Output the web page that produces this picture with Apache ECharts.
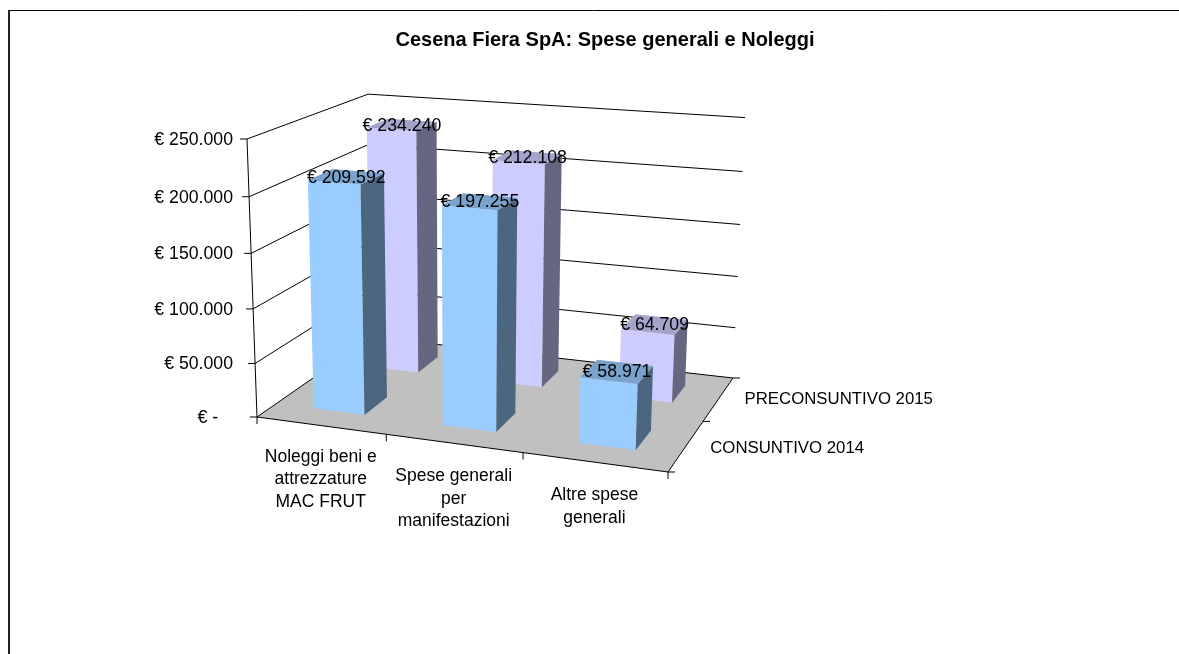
<!DOCTYPE html>
<html>
<head>
<meta charset="utf-8">
<title>Cesena Fiera SpA</title>
<script src="https://cdn.jsdelivr.net/npm/echarts@6/dist/echarts.min.js"></script>
<style>
  html, body { margin: 0; padding: 0; background: #fff; }
  #main { width: 1179px; height: 654px; }
</style>
</head>
<body>
<div id="main"></div>
<script>
var chartTitle = 'Cesena Fiera SpA: Spese generali e Noleggi';
var categories = ['Noleggi beni e\nattrezzature\nMAC FRUT', 'Spese generali\nper\nmanifestazioni', 'Altre spese\ngenerali'];
var seriesNames = ['CONSUNTIVO 2014', 'PRECONSUNTIVO 2015'];
var consuntivo2014 = [209592, 197255, 58971];
var preconsuntivo2015 = [234240, 212108, 64709];
var valueTicks = [0, 50000, 100000, 150000, 200000, 250000];
var tickLabels = ['€ -   ', '€ 50.000', '€ 100.000', '€ 150.000', '€ 200.000', '€ 250.000'];

var FONT = '"Liberation Sans", Arial, sans-serif';
var BAR_START = 0.3, BAR_END = 0.7; // gap 150% on both width and depth

// hidden flat grid: the axes give the values, project() tilts them into the 3d box
var GRID = { left: 0, top: 0, width: 300, height: 250 };

// box corners on screen, floor plus two of the top corners
var FLOOR = { fl: [257, 417], fr: [668, 472], br: [733, 378], bl: [372, 337] };
var TOP_FL = [247, 139], TOP_BR = [745, 118];

// floor homography, unit square -> quad, then the vertical column from the two top corners
function buildCamera() {
  var p0 = FLOOR.fl, p1 = FLOOR.fr, p2 = FLOOR.br, p3 = FLOOR.bl;
  var dx1 = p1[0] - p2[0], dx2 = p3[0] - p2[0], sx = p0[0] - p1[0] + p2[0] - p3[0];
  var dy1 = p1[1] - p2[1], dy2 = p3[1] - p2[1], sy = p0[1] - p1[1] + p2[1] - p3[1];
  var det = dx1 * dy2 - dx2 * dy1;
  var g = (sx * dy2 - dx2 * sy) / det;
  var h = (dx1 * sy - sx * dy1) / det;
  var cu = [p1[0] - p0[0] + g * p1[0], p1[1] - p0[1] + g * p1[1], g];
  var cw = [p3[0] - p0[0] + h * p3[0], p3[1] - p0[1] + h * p3[1], h];
  var c0 = [p0[0], p0[1], 1];
  var far = [cu[0] + cw[0] + c0[0], cu[1] + cw[1] + c0[1], cu[2] + cw[2] + c0[2]];
  var B = [TOP_FL[0], TOP_FL[1], 1];
  var k = (TOP_BR[0] * (far[2] - c0[2]) - (far[0] - c0[0])) / (B[0] - TOP_BR[0] * B[2]);
  var cv = [k * B[0] - c0[0], k * B[1] - c0[1], k * B[2] - c0[2]];
  return { cu: cu, cw: cw, cv: cv, c0: c0 };
}
var cam = buildCamera();

// u in categories, w in series rows, v 0..1 of the value axis
function project(u, w, v) {
  var a = u / categories.length, b = w / seriesNames.length, i;
  var out = [0, 0, 0];
  for (i = 0; i < 3; i++) {
    out[i] = a * cam.cu[i] + b * cam.cw[i] + v * cam.cv[i] + cam.c0[i];
  }
  return [out[0] / out[2], out[1] / out[2]];
}

// value -> 0..1 through the hidden y axis
function valueFrac(api, value) {
  var y = api.coord([0, value])[1];
  return (GRID.top + GRID.height - y) / GRID.height;
}

function poly(points, fill) {
  return {
    type: 'polygon',
    shape: { points: points },
    style: { fill: fill, stroke: 'none' }
  };
}

function line(a, b) {
  return {
    type: 'line',
    shape: { x1: a[0], y1: a[1], x2: b[0], y2: b[1] },
    style: { stroke: '#000', lineWidth: 1 }
  };
}

function label(pos, text, size, align, vAlign) {
  return {
    type: 'text',
    style: {
      x: pos[0], y: pos[1], text: text, fill: '#000',
      font: size + 'px ' + FONT, align: align, verticalAlign: vAlign, lineHeight: 22.5
    }
  };
}

// floor, walls, ticks and axis labels
function renderBox(params, api) {
  if (params.dataIndex !== 0) return;
  var nU = categories.length, nW = seriesNames.length;
  var kids = [poly([project(0, 0, 0), project(nU, 0, 0), project(nU, nW, 0), project(0, nW, 0)], '#C0C0C0')];
  var catDrop = [20, 22, 22];
  var rowShift = [[24, 3], [26, 0]];
  var i, p;
  valueTicks.forEach(function (t, idx) {
    var v = valueFrac(api, t);
    kids.push(line(project(0, 0, v), project(0, nW, v)));
    kids.push(line(project(0, nW, v), project(nU, nW, v)));
    p = project(0, 0, v);
    kids.push(line([p[0] - 7, p[1]], p));
    kids.push(label([233, p[1] + 1], tickLabels[idx], 17.7, 'right', 'middle'));
  });
  kids.push(line(project(0, 0, 0), project(0, 0, valueFrac(api, valueTicks[valueTicks.length - 1]))));
  kids.push(line(project(0, 0, 0), project(nU, 0, 0)));
  kids.push(line(project(nU, 0, 0), project(nU, nW, 0)));
  for (i = 0; i <= nU; i++) {
    p = project(i, 0, 0);
    kids.push(line(p, [p[0], p[1] + 7]));
  }
  for (i = 0; i <= nW; i++) {
    p = project(nU, i, 0);
    kids.push(line(p, [p[0] + 7, p[1]]));
  }
  categories.forEach(function (name, c) {
    var q = project(c + 0.5, 0, 0);
    kids.push(label([q[0], q[1] + catDrop[c]], name, 17.5, 'center', 'top'));
  });
  seriesNames.forEach(function (name, r) {
    var q = project(nU, r + 0.5, 0);
    kids.push(label([q[0] + rowShift[r][0], q[1] + rowShift[r][1]], name, 16.8, 'left', 'middle'));
  });
  return { type: 'group', children: kids };
}

function renderBars(row, colors) {
  return function (params, api) {
    var x = api.coord([api.value(0), 0])[0];
    var band = api.size([1, 0])[0];
    var c = (x - GRID.left) / band - 0.5;
    var v = valueFrac(api, api.value(1));
    var u0 = c + BAR_START, u1 = c + BAR_END;
    var w0 = row + BAR_START, w1 = row + BAR_END;
    return {
      type: 'group',
      children: [
        poly([project(u0, w0, 0), project(u1, w0, 0), project(u1, w0, v), project(u0, w0, v)], colors.front),
        poly([project(u1, w0, 0), project(u1, w1, 0), project(u1, w1, v), project(u1, w0, v)], colors.side),
        poly([project(u0, w0, v), project(u1, w0, v), project(u1, w1, v), project(u0, w1, v)], colors.top)
      ]
    };
  };
}

function renderLabels(row) {
  return function (params, api) {
    var x = api.coord([api.value(0), 0])[0];
    var band = api.size([1, 0])[0];
    var c = (x - GRID.left) / band;
    var v = valueFrac(api, api.value(1));
    var text = '€ ' + String(api.value(1)).replace(/(\d{3})$/, '.$1');
    var p = project(c, row + 0.5, v);
    return label([p[0], p[1] + 1], text, 17.7, 'center', 'middle');
  };
}

function rows(values) {
  return values.map(function (val, i) { return [i, val]; });
}

var chart = echarts.init(document.getElementById('main'), null, { renderer: 'canvas' });
chart.setOption({
  animation: false,
  backgroundColor: '#fff',
  title: {
    text: chartTitle,
    left: 600,
    top: 25,
    textAlign: 'center',
    textStyle: { fontFamily: FONT, fontSize: 20, fontWeight: 'bold', color: '#000' }
  },
  graphic: [
    {
      type: 'line',
      shape: { x1: 8, y1: 10.5, x2: 1179, y2: 10.5 },
      style: { stroke: '#000', lineWidth: 1 }
    },
    {
      type: 'line',
      shape: { x1: 9, y1: 10, x2: 9, y2: 654 },
      style: { stroke: '#222', lineWidth: 2 }
    }
  ],
  grid: GRID,
  xAxis: { type: 'category', data: categories, show: false },
  yAxis: { type: 'value', min: 0, max: 250000, interval: 50000, show: false },
  series: [
    { type: 'custom', name: 'box', z: 1, clip: false, renderItem: renderBox, data: rows(valueTicks), silent: true },
    {
      type: 'custom', name: seriesNames[1], z: 2, clip: false,
      renderItem: renderBars(1, { front: '#CCCCFF', side: '#666680', top: '#A3A3CC' }),
      data: rows(preconsuntivo2015)
    },
    {
      type: 'custom', name: seriesNames[0], z: 3, clip: false,
      renderItem: renderBars(0, { front: '#99CCFF', side: '#4D6680', top: '#7AA3CC' }),
      data: rows(consuntivo2014)
    },
    { type: 'custom', z: 4, clip: false, renderItem: renderLabels(1), data: rows(preconsuntivo2015) },
    { type: 'custom', z: 4, clip: false, renderItem: renderLabels(0), data: rows(consuntivo2014) }
  ]
});
</script>
</body>
</html>
